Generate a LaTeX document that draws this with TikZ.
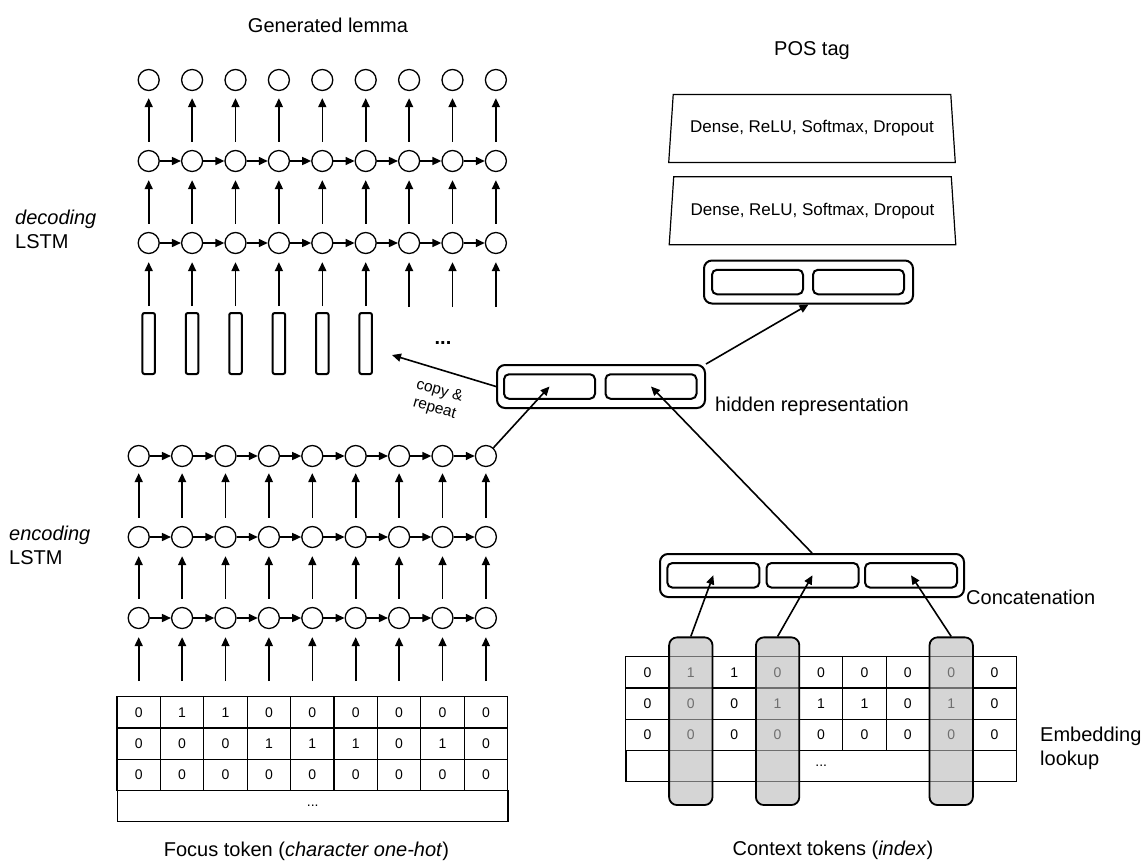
\documentclass[tikz,border=0pt]{standalone}
\usepackage{fontspec}
\setmainfont{Liberation Sans}
\usepackage{tikz}
\usetikzlibrary{shapes, arrows.meta, positioning, calc}
\definecolor{pillgrey}{RGB}{185,185,185}

\tikzset{
    cell/.style={draw, line width=1.2pt, minimum width=43.4pt, minimum height=31.2pt, inner sep=0pt, font=\fontsize{14}{16}\selectfont},
    unit/.style={circle, draw, line width=1.3pt, minimum size=21pt, inner sep=0pt},
    flow/.style={-{Triangle[length=9pt, width=8pt]}, line width=1.6pt},
    vec/.style={draw, rounded corners=5pt, line width=2pt, minimum height=24.5pt, inner sep=0pt},
    outer/.style={draw, rounded corners=8pt, line width=2pt, minimum height=43pt, inner sep=0pt},
    slot/.style={draw, rounded corners=2pt, line width=2pt, minimum width=12.5pt, minimum height=61pt, inner sep=0pt},
    layer/.style={trapezium, trapezium stretches=true, trapezium left angle=76, trapezium right angle=76, draw, line width=1.2pt, minimum width=287pt, minimum height=68pt, inner sep=0pt, font=\fontsize{17}{20}\selectfont},
    pill/.style={draw, rounded corners=8pt, line width=1.8pt, fill=pillgrey, fill opacity=0.6, minimum width=43.4pt, minimum height=167.7pt, inner sep=0pt},
    lbl/.style={font=\fontsize{20}{24}\selectfont, inner sep=0pt},
}

\begin{document}
\begin{tikzpicture}[x=1pt, y=-1pt]
    \useasboundingbox (0,0) rectangle (1148,862);

    % Decoding LSTM
    \foreach \i in {1,...,9} {
        \pgfmathsetmacro{\dx}{105.3+43.4*\i}
        \node[unit] (dout\i) at (\dx,80) {};
        \node[unit] (dtop\i) at (\dx,161) {};
        \node[unit] (dbot\i) at (\dx,243) {};
        \draw[flow, shorten <=8pt, shorten >=7pt] (dtop\i) -- (dout\i);
        \draw[flow, shorten <=8pt, shorten >=8pt] (dbot\i) -- (dtop\i);
        \ifnum\i<7
            \node[slot] (dslot\i) at (\dx,343.5) {};
            \draw[flow, shorten <=6pt, shorten >=8pt] (dslot\i.north) -- (dbot\i);
        \else
            \coordinate (dslot\i) at (\dx,313);
            \draw[flow, shorten <=6pt, shorten >=8pt] (dslot\i) -- (dbot\i);
        \fi
    }
    \foreach \i [count=\j from 2] in {1,...,8} {
        \draw[flow] (dtop\i) -- (dtop\j);
        \draw[flow] (dbot\i) -- (dbot\j);
    }
    \node[lbl, anchor=base, font=\fontsize{20}{24}\selectfont\bfseries] (ddots) at (443,344) {...};

    % Encoding LSTM
    \foreach \i in {1,...,9} {
        \pgfmathsetmacro{\ex}{95.3+43.4*\i}
        \node[unit] (etop\i) at (\ex,456) {};
        \node[unit] (emid\i) at (\ex,537) {};
        \node[unit] (ebot\i) at (\ex,618) {};
        \draw[flow, shorten <=8pt, shorten >=6pt] (emid\i) -- (etop\i);
        \draw[flow, shorten <=8pt, shorten >=8pt] (ebot\i) -- (emid\i);
    }
    \foreach \i [count=\j from 2] in {1,...,8} {
        \draw[flow] (etop\i) -- (etop\j);
        \draw[flow] (emid\i) -- (emid\j);
        \draw[flow] (ebot\i) -- (ebot\j);
    }

    % Focus token table
    \foreach \row [count=\r] in {{0,1,1,0,0,0,0,0,0},{0,0,0,1,1,1,0,1,0},{0,0,0,0,0,0,0,0,0}} {
        \foreach \v [count=\c] in \row {
            \node[cell] (f-\r-\c) at ({95.3+43.4*\c},{681.1+31.2*\r}) {\v};
        }
    }
    \node[cell, minimum width=390.6pt] (fdots) at (312.7,805.9) {...};
    \foreach \i in {1,...,9} {
        \draw[flow, shorten <=15pt, shorten >=8pt] (f-1-\i.north) -- (ebot\i);
    }

    % Context token table
    \foreach \row [count=\r] in {{0,1,1,0,0,0,0,0,0},{0,0,0,1,1,1,0,1,0},{0,0,0,0,0,0,0,0,0}} {
        \foreach \v [count=\c] in \row {
            \node[cell] (c-\r-\c) at ({604+43.4*\c},{641.1+31.2*\r}) {\v};
        }
    }
    \node[cell, minimum width=390.6pt] (cdots) at (821.2,765.9) {...};

    % Embedding lookup columns
    \node[pill] (pill1) at (690.8,721.2) {};
    \node[pill] (pill2) at (777.6,721.2) {};
    \node[pill] (pill3) at (951.2,721.2) {};

    % Concatenation
    \node[outer, minimum width=304pt] (concat) at (812,575.5) {};
    \node[vec, minimum width=92pt] (cat1) at (713.3,575.3) {};
    \node[vec, minimum width=92pt] (cat2) at (812.5,575.3) {};
    \node[vec, minimum width=92pt] (cat3) at (911,575.3) {};
    \draw[flow] (pill1.north) -- (cat1.center);
    \draw[flow] (pill2.north) -- (cat2.center);
    \draw[flow] (pill3.north) -- (cat3.center);

    % Hidden representation
    \node[outer, minimum width=208pt] (hid) at (601,386.5) {};
    \node[vec, minimum width=91pt] (hidl) at (549.5,386.5) {};
    \node[vec, minimum width=91pt] (hidr) at (651,386.5) {};
    \draw[flow] (etop9) -- (hidl.center);
    \draw[flow] (concat.north) -- (hidr.center);

    % copy & repeat
    \coordinate (copytip) at (392,355);
    \draw[flow] (hid.west) -- (copytip);
    \node[lbl, font=\fontsize{15.5}{18}\selectfont, align=center, rotate=-16] (copylbl) at (437,400) {copy \&\\repeat};

    % POS tagger
    \node[outer, minimum width=209pt] (posvec) at (808.5,282) {};
    \node[vec, minimum width=91pt] (posl) at (757.5,282) {};
    \node[vec, minimum width=91pt] (posr) at (858.5,282) {};
    \draw[flow] (hid.north east) -- (posvec.south);
    \node[layer] (dense2) at (812.5,210.8) {Dense, ReLU, Softmax, Dropout};
    \node[layer] (dense1) at (812,128.5) {Dense, ReLU, Softmax, Dropout};

    % Labels
    \node[lbl] (lemma) at (328,25) {Generated lemma};
    \node[lbl] (postag) at (812,51) {POS tag};
    \node[lbl, anchor=west, align=left] (declbl) at (15,229) {\textit{decoding}\\LSTM};
    \node[lbl, anchor=west, align=left] (enclbl) at (9,545) {\textit{encoding}\\LSTM};
    \node[lbl, anchor=west] (hidlbl) at (715,406) {hidden representation};
    \node[lbl, anchor=west] (catlbl) at (966,597) {Concatenation};
    \node[lbl, anchor=west, align=left] (emblbl) at (1040,748) {Embedding\\lookup};
    \node[lbl] (focuslbl) at (306.5,851.7) {Focus token (\textit{character one-hot})};
    \node[lbl] (ctxlbl) at (833,850) {Context tokens (\textit{index})};
\end{tikzpicture}
\end{document}
